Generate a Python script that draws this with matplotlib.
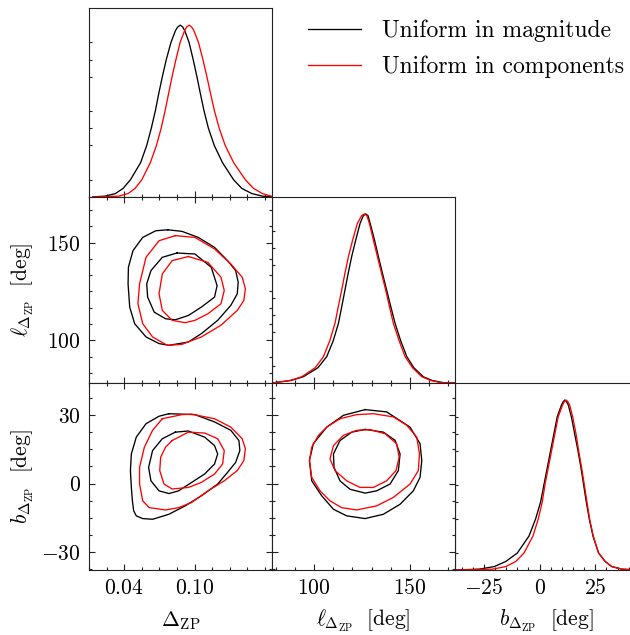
import numpy as np
import matplotlib
matplotlib.use('Agg')
import matplotlib.pyplot as plt
from matplotlib.lines import Line2D

plt.rcParams['font.family'] = 'cmr10'
plt.rcParams['mathtext.fontset'] = 'cm'
plt.rcParams['axes.formatter.use_mathtext'] = True
plt.rcParams['axes.unicode_minus'] = False

series_names = ['Uniform in magnitude', 'Uniform in components']
series_colors = ['black', 'red']

# parameter ranges
dzp_range = (0.0133, 0.166)
l_range = (78.1, 173.4)
b_range = (-38.0, 44.2)

# tick values / labels
dzp_major = [0.04, 0.10]
dzp_major_labels = ['$0.04$', '$0.10$']
dzp_minor = [0.01, 0.025, 0.055, 0.07, 0.085, 0.115, 0.13, 0.145, 0.16]
l_major = [100, 150]
l_major_labels = ['$100$', '$150$']
l_minor_x = [80, 90, 110, 120, 130, 140, 160, 170]
l_minor_y = [83.33, 91.67, 108.33, 116.67, 125.0, 133.33, 141.67, 158.33, 166.67]
b_major_x = [-25, 0, 25]
b_major_x_labels = ['$-25$', '$0$', '$25$']
b_minor_x = [-35, -30, -20, -15, -10, -5, 5, 10, 15, 20, 30, 35, 40]
b_major_y = [-30, 0, 30]
b_major_y_labels = ['$-30$', '$0$', '$30$']
b_minor_y = [-37.5, -22.5, -15, -7.5, 7.5, 15, 22.5, 37.5]
hist_minor = [0.1, 0.3, 0.4, 0.5, 0.7, 0.8, 0.9]

labels = [r'$\Delta_{\rm ZP}$',
          r'$\ell_{\Delta_{\rm ZP}}\ \ [{\rm deg}]$',
          r'$b_{\Delta_{\rm ZP}}\ \ [{\rm deg}]$']

# ---- 1D marginals (relative density, peak = 1) ----
dzp_mag_x = [0.0133, 0.0238, 0.0325, 0.0391, 0.0453, 0.0540, 0.0592, 0.0631, 0.0665, 0.0694,
             0.0725, 0.0759, 0.0799, 0.0838, 0.0857, 0.0878, 0.0898, 0.0915, 0.0953, 0.0988,
             0.1020, 0.1050, 0.1081, 0.1118, 0.1168, 0.1238, 0.1333, 0.1403, 0.1488, 0.1578, 0.166]
dzp_mag_y = [0.001, 0.005, 0.02, 0.05, 0.10, 0.20, 0.30, 0.40, 0.50, 0.60,
             0.70, 0.80, 0.90, 0.97, 0.99, 1.0, 0.99, 0.97, 0.90, 0.80,
             0.70, 0.60, 0.50, 0.40, 0.30, 0.20, 0.10, 0.05, 0.02, 0.005, 0.001]
dzp_com_x = [0.0133, 0.0353, 0.0433, 0.0493, 0.0550, 0.0623, 0.0675, 0.0715, 0.0748, 0.0778,
             0.0808, 0.0841, 0.0877, 0.0916, 0.0933, 0.0953, 0.0974, 0.0993, 0.1033, 0.1071,
             0.1105, 0.1137, 0.1170, 0.1210, 0.1261, 0.1333, 0.1433, 0.1503, 0.1578, 0.1653, 0.166]
dzp_com_y = [0.0, 0.005, 0.02, 0.05, 0.10, 0.20, 0.30, 0.40, 0.50, 0.60,
             0.70, 0.80, 0.90, 0.97, 0.99, 1.0, 0.99, 0.97, 0.90, 0.80,
             0.70, 0.60, 0.50, 0.40, 0.30, 0.20, 0.10, 0.05, 0.02, 0.005, 0.004]

l_mag_x = [78.1, 88.0, 94.4, 102.0, 106.6, 110.0, 112.7, 114.4, 116.1, 117.8, 119.6, 121.8,
           124.0, 125.7, 126.9, 128.1, 129.2, 131.4, 133.5, 135.6, 137.8, 140.0, 142.2,
           145.1, 148.3, 152.0, 156.9, 161.5, 167.4, 173.4]
l_mag_y = [0.0, 0.015, 0.037, 0.09, 0.156, 0.25, 0.353, 0.45, 0.55, 0.65, 0.748, 0.85,
           0.945, 0.99, 1.0, 0.99, 0.945, 0.85, 0.748, 0.65, 0.55, 0.45, 0.353,
           0.25, 0.156, 0.09, 0.037, 0.015, 0.002, 0.0]
l_com_x = [78.1, 87.5, 93.6, 100.6, 104.9, 108.2, 110.9, 112.6, 114.4, 116.1, 117.9, 120.2,
           122.6, 124.8, 126.2, 127.5, 128.8, 130.8, 133.0, 135.1, 137.3, 139.3, 141.3,
           144.3, 147.4, 151.3, 156.1, 160.7, 166.0, 173.4]
l_com_y = [0.0, 0.015, 0.037, 0.09, 0.156, 0.25, 0.353, 0.45, 0.55, 0.65, 0.748, 0.85,
           0.945, 0.99, 1.0, 0.99, 0.945, 0.85, 0.748, 0.65, 0.55, 0.45, 0.353,
           0.25, 0.156, 0.09, 0.037, 0.015, 0.002, 0.0]

b_mag_x = [-38.0, -27.1, -20.4, -15.2, -10.0, -4.76, -1.8, 0.45, 1.93, 3.42, 4.91, 6.40,
           7.89, 9.8, 10.6, 11.31, 12.1, 12.9, 14.29, 15.77, 17.26, 18.6, 19.79, 20.98,
           22.32, 23.96, 26.49, 29.46, 32.44, 36.9, 44.2]
b_mag_y = [0.0, 0.005, 0.02, 0.05, 0.10, 0.20, 0.30, 0.40, 0.50, 0.60, 0.70, 0.80,
           0.90, 0.97, 0.99, 1.0, 0.99, 0.97, 0.90, 0.80, 0.70, 0.60, 0.50, 0.40,
           0.30, 0.20, 0.10, 0.05, 0.02, 0.005, 0.0]
b_com_x = [-38.0, -21.1, -15.2, -10.7, -7.0, -2.98, -0.6, 1.19, 2.38, 3.87, 5.36, 6.85,
           8.33, 10.3, 11.1, 11.9, 12.7, 13.5, 14.88, 16.37, 17.56, 18.9, 20.09, 21.28,
           22.47, 24.1, 26.49, 29.46, 32.44, 36.9, 44.2]
b_com_y = [0.0, 0.005, 0.02, 0.05, 0.10, 0.20, 0.30, 0.40, 0.50, 0.60, 0.70, 0.80,
           0.90, 0.97, 0.99, 1.0, 0.99, 0.97, 0.90, 0.80, 0.70, 0.60, 0.50, 0.40,
           0.30, 0.20, 0.10, 0.05, 0.02, 0.005, 0.0]

# ---- 2D credible contours ----
# l vs dzp
dl_mag_outer_d = [0.0772, 0.0892, 0.1031, 0.1170, 0.1281, 0.1350, 0.1372, 0.1364, 0.1309, 0.1197,
                  0.1058, 0.0947, 0.0781, 0.0697, 0.0586, 0.0489, 0.0447, 0.0433, 0.0436, 0.0475, 0.0558, 0.0669]
dl_mag_outer_l = [156.6, 155.8, 152.7, 147.6, 140.8, 135.7, 129.8, 123.8, 117.9, 110.2,
                  103.4, 99.1, 97.4, 98.3, 101.7, 108.5, 117.0, 128.9, 137.4, 145.9, 152.7, 156.1]
dl_com_outer_d = [0.0836, 0.1003, 0.1170, 0.1309, 0.1406, 0.1433, 0.1420, 0.1364, 0.1225, 0.1058,
                  0.0892, 0.0767, 0.0642, 0.0558, 0.0517, 0.0531, 0.0586, 0.0697]
dl_com_outer_l = [153.6, 152.7, 146.8, 139.1, 132.3, 126.4, 120.4, 115.3, 107.7, 101.7,
                  97.9, 97.4, 101.7, 108.5, 118.7, 128.9, 142.5, 151.0]
dl_mag_inner_d = [0.0850, 0.1003, 0.1142, 0.1192, 0.1170, 0.1058, 0.0947, 0.0836, 0.0753, 0.0656,
                  0.0600, 0.0592, 0.0628, 0.0725]
dl_mag_inner_l = [144.7, 144.2, 137.4, 128.0, 122.1, 117.0, 112.7, 110.5, 111.0, 114.4,
                  122.1, 128.9, 135.7, 142.5]
dl_com_inner_d = [0.0947, 0.1114, 0.1225, 0.1253, 0.1225, 0.1114, 0.1003, 0.0920, 0.0809, 0.0725,
                  0.0697, 0.0725, 0.0809]
dl_com_inner_l = [142.9, 139.9, 132.3, 125.5, 118.7, 113.6, 110.2, 109.0, 110.2, 115.3,
                  123.8, 134.0, 140.8]

# b vs dzp
db_mag_outer_d = [0.0781, 0.1003, 0.1170, 0.1309, 0.1378, 0.1386, 0.1350, 0.1281, 0.1197, 0.1058,
                  0.0920, 0.0781, 0.0642, 0.0558, 0.0503, 0.0481, 0.0470, 0.0461, 0.0453, 0.0461,
                  0.0503, 0.0586, 0.0697]
db_mag_outer_b = [30.7, 30.3, 27.1, 23.4, 18.9, 14.5, 9.3, 4.9, -0.2, -5.4,
                  -9.8, -13.5, -15.7, -15.4, -14.2, -12.0, -7.6, -1.7, 5.7, 13.0,
                  20.4, 26.3, 29.6]
db_com_outer_d = [0.0725, 0.0892, 0.0975, 0.1170, 0.1309, 0.1406, 0.1433, 0.1420, 0.1364, 0.1253,
                  0.1114, 0.0975, 0.0864, 0.0753, 0.0614, 0.0558, 0.0531, 0.0531, 0.0572, 0.0642]
db_com_outer_b = [28.5, 30.3, 30.5, 28.5, 24.8, 19.7, 15.3, 10.1, 5.7, 1.2,
                  -3.2, -8.3, -10.6, -11.6, -10.6, -7.6, -0.2, 7.1, 16.0, 23.4]
db_mag_inner_d = [0.0836, 0.0947, 0.1086, 0.1170, 0.1197, 0.1170, 0.1086, 0.0975, 0.0864, 0.0781,
                  0.0697, 0.0628, 0.0608, 0.0642, 0.0725]
db_mag_inner_b = [22.6, 23.1, 20.4, 16.7, 13.0, 8.6, 4.2, 0.5, -3.2, -4.4,
                  -3.2, 1.2, 7.1, 14.5, 19.7]
db_com_inner_d = [0.0809, 0.0947, 0.1086, 0.1197, 0.1253, 0.1239, 0.1170, 0.1058, 0.0947, 0.0809,
                  0.0739, 0.0703, 0.0711, 0.0753]
db_com_inner_b = [18.9, 22.6, 22.2, 19.7, 14.5, 8.6, 4.2, 0.5, -1.7, -2.4,
                  -0.2, 5.7, 11.6, 16.0]

# b vs l
lb_mag_outer_l = [126.6, 137.8, 150.0, 155.2, 156.1, 155.2, 151.7, 144.8, 136.1, 126.6,
                  117.0, 110.1, 104.0, 98.8, 97.6, 99.6, 106.6, 115.3]
lb_mag_outer_b = [32.5, 31.5, 24.8, 17.5, 10.1, 2.7, -3.2, -9.1, -13.5, -15.4,
                  -14.2, -11.3, -5.4, 1.2, 10.1, 17.5, 24.8, 30.0]
lb_com_outer_l = [113.5, 122.2, 130.9, 141.3, 148.3, 153.5, 154.9, 154.3, 150.0, 141.3,
                  132.6, 122.2, 114.4, 108.3, 103.1, 98.8, 97.6, 98.8, 102.3, 106.6]
lb_com_outer_b = [28.5, 30.3, 30.7, 29.3, 25.6, 20.4, 13.0, 5.7, -0.2, -6.1,
                  -9.8, -11.6, -10.6, -7.6, -3.2, 2.7, 10.1, 16.0, 21.2, 24.8]
lb_mag_inner_l = [126.6, 136.1, 142.2, 144.8, 143.9, 139.6, 132.6, 126.6, 118.7, 113.5,
                  110.4, 110.1, 113.5, 119.6]
lb_mag_inner_b = [23.8, 22.6, 19.0, 13.0, 5.7, -0.2, -3.2, -4.2, -2.5, 1.2,
                  7.1, 13.0, 18.9, 22.6]
lb_com_inner_l = [129.2, 137.0, 143.0, 144.3, 142.7, 137.8, 130.9, 123.9, 117.0, 110.9,
                  108.3, 110.1, 115.3, 122.2]
lb_com_inner_b = [23.7, 21.9, 17.5, 11.6, 5.7, 1.2, -1.7, -1.7, 1.2, 5.7,
                  10.8, 16.7, 21.2, 23.4]

# ---------------- figure ----------------
fig = plt.figure(figsize=(6.3, 6.35), dpi=100)
W, H = 630.0, 635.0
col_px = [(89, 272), (272, 455), (455, 638)]
row_px = [(8, 197), (197, 383), (383, 570)]


def make_ax(r, c):
    x0, x1 = col_px[c]
    y0, y1 = row_px[r]
    return fig.add_axes([x0 / W, 1 - y1 / H, (x1 - x0) / W, (y1 - y0) / H])


LW = 0.95
TICK_FS = 15.5
LABEL_FS = 15.5


def style(ax, twod=True):
    for s in ax.spines.values():
        s.set_linewidth(0.8)
        s.set_color('#222222')
    ax.tick_params(which='both', direction='in', top=twod, right=twod,
                   labelsize=TICK_FS, width=0.8, pad=6, color='#222222')
    ax.tick_params(which='major', length=4.2)
    ax.tick_params(which='minor', length=2.2)


def set_x(ax, idx):
    if idx == 0:
        ax.set_xlim(*dzp_range)
        ax.set_xticks(dzp_major, dzp_major_labels)
        ax.set_xticks(dzp_minor, minor=True)
    elif idx == 1:
        ax.set_xlim(*l_range)
        ax.set_xticks(l_major, l_major_labels)
        ax.set_xticks(l_minor_x, minor=True)
    else:
        ax.set_xlim(*b_range)
        ax.set_xticks(b_major_x, b_major_x_labels)
        ax.set_xticks(b_minor_x, minor=True)


def set_y(ax, idx):
    if idx == 1:
        ax.set_ylim(*l_range)
        ax.set_yticks(l_major, l_major_labels)
        ax.set_yticks(l_minor_y, minor=True)
    else:
        ax.set_ylim(*b_range)
        ax.set_yticks(b_major_y, b_major_y_labels)
        ax.set_yticks(b_minor_y, minor=True)


def closed(x, y):
    return np.append(x, x[0]), np.append(y, y[0])


# 1D panels
hist_data = [
    [(dzp_mag_x, dzp_mag_y), (dzp_com_x, dzp_com_y)],
    [(l_mag_x, l_mag_y), (l_com_x, l_com_y)],
    [(b_mag_x, b_mag_y), (b_com_x, b_com_y)],
]
for i in range(3):
    ax = make_ax(i, i)
    style(ax, twod=False)
    for (x, y), col in zip(hist_data[i], series_colors):
        ax.plot(x, y, color=col, lw=LW, solid_joinstyle='round')
    set_x(ax, i)
    ax.set_ylim(0, 1.1)
    ax.set_yticks([])
    ax.set_yticks(hist_minor, minor=True)
    ax.tick_params(axis='y', which='minor', length=2.0)
    if i < 2:
        ax.tick_params(axis='x', labelbottom=False)
    else:
        ax.set_xlabel(labels[2], fontsize=LABEL_FS, va='center')
        ax.xaxis.set_label_coords(0.5, -0.273)

# 2D panels
contour_data = {
    (1, 0): [
        [(dl_mag_outer_d, dl_mag_outer_l), (dl_mag_inner_d, dl_mag_inner_l)],
        [(dl_com_outer_d, dl_com_outer_l), (dl_com_inner_d, dl_com_inner_l)],
    ],
    (2, 0): [
        [(db_mag_outer_d, db_mag_outer_b), (db_mag_inner_d, db_mag_inner_b)],
        [(db_com_outer_d, db_com_outer_b), (db_com_inner_d, db_com_inner_b)],
    ],
    (2, 1): [
        [(lb_mag_outer_l, lb_mag_outer_b), (lb_mag_inner_l, lb_mag_inner_b)],
        [(lb_com_outer_l, lb_com_outer_b), (lb_com_inner_l, lb_com_inner_b)],
    ],
}
for (r, c), series in contour_data.items():
    ax = make_ax(r, c)
    style(ax, twod=True)
    for loops, col in zip(series, series_colors):
        for x, y in loops:
            xx, yy = closed(x, y)
            ax.plot(xx, yy, color=col, lw=LW, solid_joinstyle='round')
    set_x(ax, c)
    set_y(ax, r)
    if c == 0:
        ax.set_ylabel(labels[r], fontsize=LABEL_FS, va='center')
        ax.yaxis.set_label_coords(-0.36, 0.5)
    else:
        ax.tick_params(axis='y', labelleft=False)
    if r == 2:
        ax.set_xlabel(labels[c], fontsize=LABEL_FS, va='center')
        ax.xaxis.set_label_coords(0.5, -0.273)
    else:
        ax.tick_params(axis='x', labelbottom=False)

handles = [Line2D([], [], color=c, lw=LW) for c in series_colors]
fig.legend(handles, series_names, loc='upper left', bbox_to_anchor=(308 / W, 1 - 20 / H),
           frameon=False, fontsize=17, handlelength=2.25, handletextpad=0.9,
           labelspacing=0.55, borderpad=0, borderaxespad=0)

fig.savefig('out.png', dpi=100, facecolor='white')
